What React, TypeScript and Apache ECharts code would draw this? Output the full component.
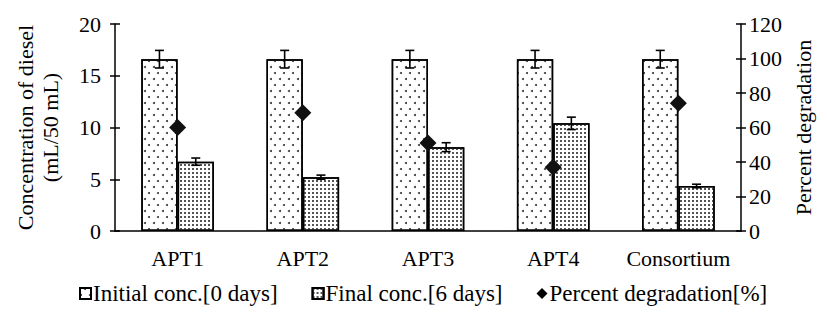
import React, { useEffect, useRef } from "react";
import * as echarts from "echarts";

const categories = ["APT1", "APT2", "APT3", "APT4", "Consortium"];
const initialConc = [16.6, 16.6, 16.6, 16.6, 16.6];
const initialErr = [0.85, 0.85, 0.85, 0.85, 0.85];
const finalConc = [6.7, 5.2, 8.1, 10.4, 4.35];
const finalErr = [0.35, 0.2, 0.43, 0.6, 0.17];
const percentDeg = [60, 68.5, 51, 37, 74];
const leftTicks = { min: 0, max: 20, interval: 5 };
const rightTicks = { min: 0, max: 120, interval: 20 };

const FONT = "Liberation Serif";

export default function App() {
  const ref = useRef<HTMLDivElement>(null);
  useEffect(() => {
    document.body.style.margin = "0";
    const chart = echarts.init(ref.current!, null, { renderer: "svg" });
    const barW = 0.29;
    const errSeries = (vals: number[], errs: number[], sign: number, capW: number) => ({
      type: "custom",
      xAxisIndex: 0,
      yAxisIndex: 0,
      z: 10,
      silent: true,
      data: vals.map((v, i) => [i, v, errs[i]]),
      encode: { x: 0, y: 1 },
      renderItem: (params: any, api: any) => {
        const i = api.value(0);
        const v = api.value(1);
        const e = api.value(2);
        const band = api.size([1, 0])[0];
        const cx = api.coord([i, v])[0] + sign * band * barW / 2;
        const yt = api.coord([i, v + e])[1];
        const yb = api.coord([i, v - e])[1];
        const st = { stroke: "#000", lineWidth: 1.6 };
        return {
          type: "group",
          children: [
            { type: "line", shape: { x1: cx, y1: yt, x2: cx, y2: yb }, style: st },
            { type: "line", shape: { x1: cx - capW / 2, y1: yt, x2: cx + capW / 2, y2: yt }, style: st },
            { type: "line", shape: { x1: cx - capW / 2, y1: yb, x2: cx + capW / 2, y2: yb }, style: st },
          ],
        };
      },
    });
    const axisText = { color: "#000", fontFamily: FONT, fontSize: 22 };
    const lineStyle = { color: "#000", width: 1.5 };
    chart.setOption({
      animation: false,
      textStyle: { fontFamily: FONT, color: "#000" },
      grid: { left: 115, right: 86, top: 24, bottom: 83 },
      legend: {
        bottom: 4,
        left: 74,
        itemGap: 34,
        itemWidth: 11,
        itemHeight: 11,
        textStyle: { ...axisText, fontSize: 23, padding: [0, 0, 0, -3] },
        data: [
          { name: "Initial conc.[0 days]", icon: "rect" },
          { name: "Final conc.[6 days]", icon: "rect" },
          { name: "Percent degradation[%]", icon: "diamond", itemStyle: { borderWidth: 0, opacity: 1, color: "#000" } },
        ],
      },
      xAxis: [
        {
          type: "category",
          data: categories,
          axisLine: { lineStyle },
          axisTick: { length: 5, lineStyle },
          axisLabel: { ...axisText, margin: 16, interval: 0 },
        },
        {
          type: "category",
          data: categories,
          position: "bottom",
          axisLine: { show: false },
          axisTick: { inside: true, length: 5, lineStyle },
          axisLabel: { show: false },
        },
      ],
      yAxis: [
        {
          type: "value",
          ...leftTicks,
          position: "left",
          splitLine: { show: false },
          axisLine: { show: true, lineStyle },
          axisTick: { show: true, length: 5, lineStyle },
          axisLabel: { ...axisText, margin: 14 },
          name: "Concentration of diesel\n(mL/50 mL)",
          nameLocation: "middle",
          nameRotate: 90,
          nameGap: 52,
          nameTextStyle: { ...axisText, lineHeight: 25 },
        },
        {
          type: "value",
          ...rightTicks,
          position: "right",
          splitLine: { show: false },
          axisLine: { show: true, lineStyle },
          axisTick: { show: true, length: 5, lineStyle },
          axisLabel: { ...axisText, margin: 8 },
          name: "Percent degradation",
          nameLocation: "middle",
          nameRotate: 90,
          nameGap: 50,
          nameTextStyle: axisText,
        },
        {
          type: "value",
          ...leftTicks,
          position: "left",
          splitLine: { show: false },
          axisLine: { show: false },
          axisTick: { show: true, inside: true, length: 5, lineStyle },
          axisLabel: { show: false },
        },
        {
          type: "value",
          ...rightTicks,
          position: "right",
          splitLine: { show: false },
          axisLine: { show: false },
          axisTick: { show: true, inside: true, length: 5, lineStyle },
          axisLabel: { show: false },
        },
      ],
      series: [
        {
          name: "Initial conc.[0 days]",
          type: "bar",
          data: initialConc,
          barWidth: "29%",
          barGap: "0%",
          itemStyle: {
            color: "#fff",
            borderColor: "#000",
            borderWidth: 1.5,
            decal: {
              symbol: "circle",
              symbolSize: 1,
              color: "#333",
              dashArrayX: [[1.8, 6.2], [0, 4, 1.8, 2.2]],
              dashArrayY: [1.8, 3.8],
            },
          },
        },
        {
          name: "Final conc.[6 days]",
          type: "bar",
          data: finalConc,
          barWidth: "29%",
          barGap: "0%",
          itemStyle: {
            color: "#fff",
            borderColor: "#000",
            borderWidth: 1.5,
            decal: {
              symbol: "rect",
              symbolSize: 1,
              color: "#555",
              dashArrayX: [1.5, 1.5],
              dashArrayY: [1.5, 1.5],
            },
          },
        },
        errSeries(initialConc, initialErr, -1, 9),
        errSeries(finalConc, finalErr, 1, 9),
        {
          name: "Percent degradation[%]",
          type: "scatter",
          yAxisIndex: 1,
          data: percentDeg,
          symbol: "diamond",
          symbolSize: 17,
          z: 20,
          itemStyle: { color: "#111", opacity: 1 },
        },
      ],
    });
    return () => chart.dispose();
  }, []);
  return <div ref={ref} style={{ width: 827, height: 314 }} />;
}
